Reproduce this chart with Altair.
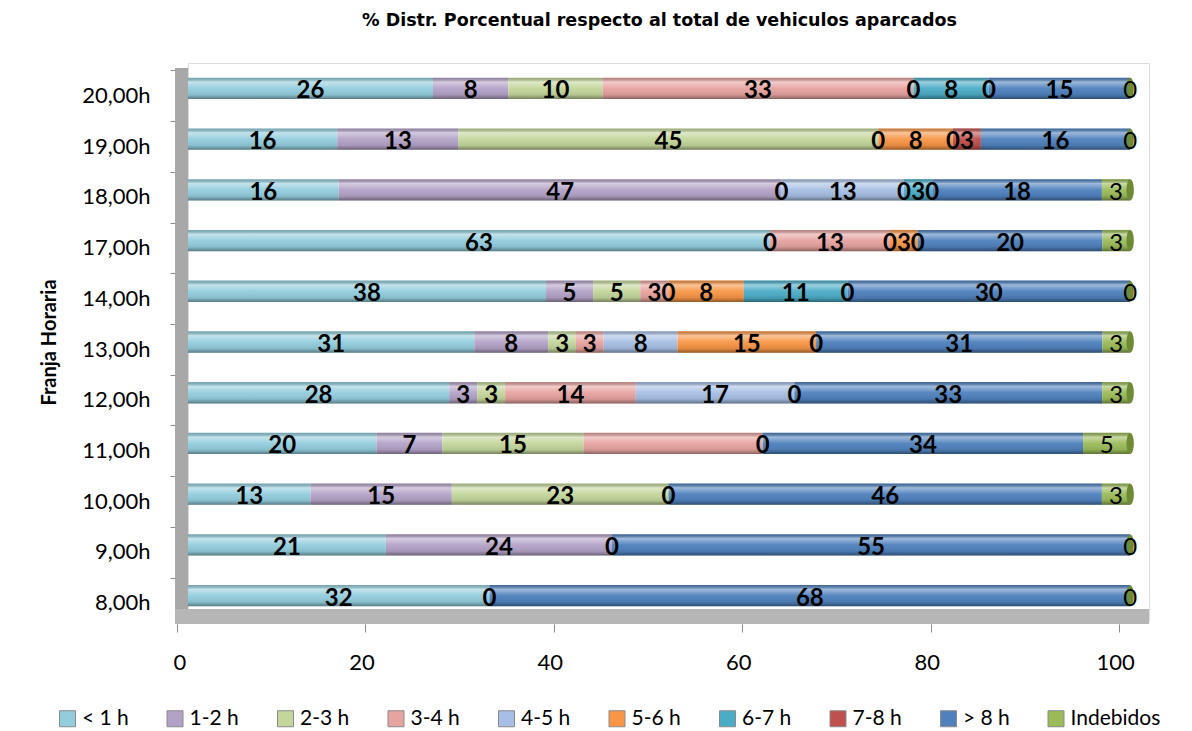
import altair as alt
import pandas as pd

# Franjas horarias (de abajo arriba) y categorías de duración del aparcamiento
franjas = ["8,00h", "9,00h", "10,00h", "11,00h", "12,00h", "13,00h",
           "14,00h", "17,00h", "18,00h", "19,00h", "20,00h"]
categorias = ["< 1 h", "1-2 h", "2-3 h", "3-4 h", "4-5 h",
              "5-6 h", "6-7 h", "7-8 h", "> 8 h", "Indebidos"]
colores = ["#93CDDD", "#B3A2C7", "#C3D69B", "#E6A3A0", "#A7BFE4",
           "#F79646", "#4BACC6", "#C0504D", "#4F81BD", "#9BBB59"]

# Porcentaje por categoría y franja (None = celda vacía, sin segmento ni etiqueta)
N = None
menos_1h  = [32, 21, 13, 20, 28, 31, 38, 63, 16, 16, 26]
h1_2      = [N, 24, 15, 7, 3, 8, 5, 0, 47, 13, 8]
h2_3      = [N, N, 23, 15, 3, 3, 5, N, 0, 45, 10]
h3_4      = [N, N, N, 19, 14, 3, 3, 13, N, 0, 33]
h4_5      = [N, N, N, N, 17, 8, 0, 0, 13, N, 0]
h5_6      = [N, N, N, N, N, 15, 8, 3, 0, 8, N]
h6_7      = [N, N, N, N, N, N, 11, 0, 3, 0, 8]
h7_8      = [0, 0, 0, 0, 0, 0, 0, N, 0, 3, 0]
mas_8h    = [68, 55, 46, 34, 33, 31, 30, 20, 18, 16, 15]
indebidos = [0, 0, 3, 5, 3, 3, 0, 3, 3, 0, 0]

# Segmentos sin etiqueta visible (franja, categoría)
sin_etiqueta = [("11,00h", "3-4 h")]

series = [menos_1h, h1_2, h2_3, h3_4, h4_5, h5_6, h6_7, h7_8, mas_8h, indebidos]

filas = []
for k, (cat, vals) in enumerate(zip(categorias, series)):
    for franja, v in zip(franjas, vals):
        if v is None:
            continue
        etiqueta = "" if (franja, cat) in sin_etiqueta else str(v)
        filas.append({"franja": franja, "categoria": cat, "orden": k,
                      "valor": v, "etiqueta": etiqueta})
df = pd.DataFrame(filas)

orden_y = list(reversed(franjas))
escala_y = alt.Scale(domain=orden_y, paddingInner=0.58, paddingOuter=0.29)
escala_x = alt.Scale(domain=[0, 102], nice=False, zero=True)
escala_color = alt.Scale(domain=categorias, range=colores)

eje_x = alt.Axis(values=[0, 20, 40, 60, 80, 100], title=None, domain=False,
                 grid=False, offset=3, tickSize=8, tickColor="#8c8c8c",
                 tickOffset=-11, labelOffset=-4, labelPadding=20,
                 labelFont="Lato", labelFontSize=22, labelColor="#000000")
eje_y = alt.Axis(title="Franja Horaria", domain=False, grid=False, offset=13,
                 tickSize=5, tickColor="#8c8c8c", tickOffset=-18,
                 labelOffset=25, labelPadding=20, labelFont="Lato",
                 labelFontSize=22, labelColor="#000000", titleFont="Lato",
                 titleFontSize=20, titleFontWeight="bold", titlePadding=22,
                 titleColor="#000000")

# Barras apiladas al 100 %
base = alt.Chart(df).transform_stack(
    stack="valor", groupby=["franja"], as_=["p0", "p1"], offset="normalize",
    sort=[alt.SortField("orden", order="ascending")]
).transform_calculate(
    x0="datum.p0 * 100", x1="datum.p1 * 100"
)

# Paredes del gráfico 3D: pared izquierda y suelo
pared = alt.Chart(alt.Data(values=[{}])).mark_rect(color="#a8a8a8").encode(
    x=alt.value(-13), x2=alt.value(0), y=alt.value(5), y2=alt.value(561))
suelo = alt.Chart(alt.Data(values=[{}])).mark_rect(color="#b6b6b6").encode(
    x=alt.value(-13), x2=alt.value(961), y=alt.value(546), y2=alt.value(561))

barras = base.mark_bar().encode(
    x=alt.X("x0:Q", scale=escala_x, axis=eje_x),
    x2="x1:Q",
    y=alt.Y("franja:N", scale=escala_y, axis=eje_y, sort=orden_y),
    color=alt.Color("categoria:N", scale=escala_color, sort=categorias,
                    legend=alt.Legend(title=None, orient="none", legendX=-131,
                                      legendY=645, direction="horizontal",
                                      columns=10, columnPadding=35.5,
                                      symbolType="square", symbolSize=256,
                                      symbolStrokeColor="#8a8a8a",
                                      symbolStrokeWidth=1, labelFont="Lato",
                                      labelFontSize=21, labelColor="#000000",
                                      labelOffset=4, padding=0)),
)

# Sombreado cilíndrico sobre cada barra completa
brillo = alt.Gradient(
    gradient="linear", x1=0, x2=0, y1=0, y2=1,
    stops=[alt.GradientStop(color="rgba(0,0,0,0.18)", offset=0),
           alt.GradientStop(color="rgba(255,255,255,0.45)", offset=0.2),
           alt.GradientStop(color="rgba(255,255,255,0.05)", offset=0.5),
           alt.GradientStop(color="rgba(0,0,0,0.08)", offset=0.8),
           alt.GradientStop(color="rgba(0,0,0,0.4)", offset=1)])

totales = base.transform_aggregate(
    fin="max(x1)", groupby=["franja"]
).transform_calculate(ini="0")

sombra = totales.mark_bar(fill=brillo).encode(
    x=alt.X("ini:Q", scale=escala_x), x2="fin:Q",
    y=alt.Y("franja:N", scale=escala_y, sort=orden_y))

elipse = "M0,-1 A0.35,1 0 0,1 0,1 A0.35,1 0 0,1 0,-1 Z"
tapa = totales.mark_point(shape=elipse, filled=True, opacity=1,
                          color="#6f8a35", size=441).encode(
    x=alt.X("fin:Q", scale=escala_x),
    y=alt.Y("franja:N", scale=escala_y, sort=orden_y))

etiquetas = base.transform_calculate(medio="(datum.x0 + datum.x1) / 2")

texto_negrita = etiquetas.transform_filter(
    alt.datum.categoria != "Indebidos"
).mark_text(font="Lato", fontSize=24, fontWeight="bold", color="#000000",
            baseline="middle", dy=3).encode(
    x=alt.X("medio:Q", scale=escala_x),
    y=alt.Y("franja:N", scale=escala_y, sort=orden_y),
    text="etiqueta:N")

texto_normal = etiquetas.transform_filter(
    alt.datum.categoria == "Indebidos"
).mark_text(font="Lato", fontSize=24, color="#000000",
            baseline="middle", dy=3).encode(
    x=alt.X("medio:Q", scale=escala_x),
    y=alt.Y("franja:N", scale=escala_y, sort=orden_y),
    text="etiqueta:N")

chart = alt.layer(
    pared, suelo, barras, sombra, tapa, texto_negrita, texto_normal
).properties(
    width=961, height=558,
    title=alt.TitleParams(
        "% Distr. Porcentual respecto al total de vehiculos aparcados",
        font="DejaVu Sans", fontSize=17.5, fontWeight="bold",
        color="#000000", anchor="middle", dx=-9, offset=34),
    autosize=alt.AutoSizeParams(type="none"),
    padding={"left": 188, "top": 63, "right": 43, "bottom": 110},
).configure_view(fill="#e9e9e9", stroke=None).configure(background="#ffffff")

chart.save("out.html", embed_options={"renderer": "svg", "actions": False})
